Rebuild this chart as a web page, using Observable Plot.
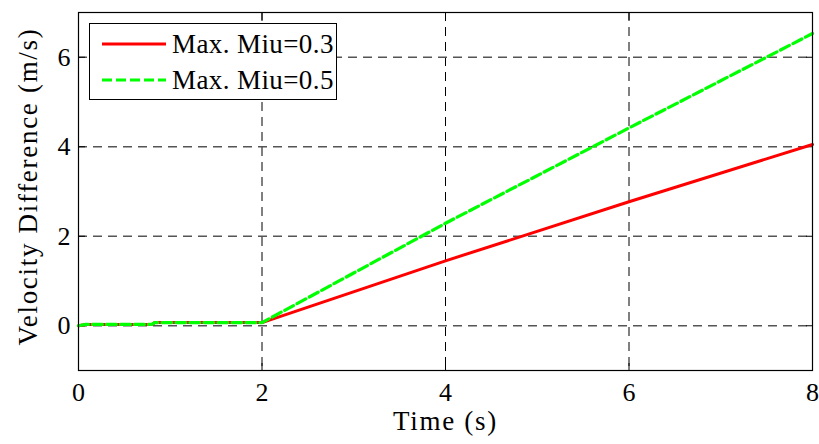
<!DOCTYPE html>
<html><head><meta charset="utf-8">
<script src="https://cdn.jsdelivr.net/npm/d3@7"></script>
<script src="https://cdn.jsdelivr.net/npm/@observablehq/plot@0.6"></script>
<style>
body{margin:0;background:#fff;}
#wrap{position:relative;width:819px;height:444px;overflow:hidden;}
#wrap svg text{font-family:"Liberation Serif","Times New Roman",serif;}
.legend{position:absolute;left:89px;top:23px;width:248px;height:77px;border:1px solid #000;background:#fff;box-sizing:border-box;font-family:"Liberation Serif","Times New Roman",serif;font-size:27px;letter-spacing:0.4px;white-space:nowrap;}
.legend .row{position:absolute;left:0;height:30px;display:flex;align-items:center;white-space:nowrap;}
.legend svg{display:block;flex:none;}
</style></head><body><div id="wrap"></div>
<script>
// data
const time  = [0, 0.08, 0.8, 0.83, 2.0, 4.0, 6.0, 8.0];
const miu03 = [0, 0.03, 0.03, 0.07, 0.07, 1.45, 2.77, 4.05];
const miu05 = [0, 0.03, 0.03, 0.07, 0.07, 2.29, 4.42, 6.53];
const seriesNames = ["Max. Miu=0.3", "Max. Miu=0.5"];
const xTicks = [0, 2, 4, 6, 8];
const yTicks = [0, 2, 4, 6];
const xLabel = "Time (s)";
const yLabel = "Velocity Difference (m/s)";

const red = time.map((t, i) => ({t, v: miu03[i]}));
const green = time.map((t, i) => ({t, v: miu05[i]}));
const font = '"Liberation Serif", "Times New Roman", serif';

const chart = Plot.plot({
  width: 819, height: 444,
  marginLeft: 78, marginRight: 7, marginTop: 12, marginBottom: 74,
  x: {domain: [0, 8]},
  y: {domain: [-1, 7]},
  style: {fontFamily: font, fontSize: "26px", background: "white", color: "#000", overflow: "visible"},
  marks: [
    Plot.gridX(xTicks.slice(1, -1), {stroke: "#000", strokeOpacity: 1, strokeWidth: 1, strokeDasharray: "9,6"}),
    Plot.gridY(yTicks, {stroke: "#555", strokeOpacity: 1, strokeWidth: 1.3, strokeDasharray: "9,6"}),
    Plot.axisX(xTicks, {anchor: "bottom", tickSize: 0, tickPadding: 12, label: null, fontSize: 26}),
    Plot.axisY(yTicks, {anchor: "left", tickSize: 0, tickPadding: 8, label: null, fontSize: 26}),
    Plot.axisX(xTicks, {anchor: "bottom", tickSize: -7, text: null, label: null}),
    Plot.axisX(xTicks, {anchor: "top", tickSize: -7, text: null, label: null}),
    Plot.axisY(yTicks, {anchor: "left", tickSize: -7, text: null, label: null}),
    Plot.axisY(yTicks, {anchor: "right", tickSize: -7, text: null, label: null}),
    Plot.line(red, {x: "t", y: "v", stroke: "#ff0000", strokeWidth: 3}),
    Plot.line(green, {x: "t", y: "v", stroke: "#00ff00", strokeWidth: 3.2, strokeDasharray: "10,4"}),
    Plot.frame({stroke: "#000", strokeWidth: 1.2}),
    Plot.text([xLabel], {frameAnchor: "bottom", textAnchor: "middle", dy: 59, fontSize: 27, fill: "#000"}),
    Plot.text([yLabel], {frameAnchor: "left", textAnchor: "middle", rotate: -90, dx: -50, dy: -5, fontSize: 27, fill: "#000"})
  ]
});
chart.querySelectorAll("text").forEach(t => {
  if (t.textContent === yLabel || t.textContent === xLabel) t.setAttribute("letter-spacing", "1.7");
});
const wrap = document.getElementById("wrap");
wrap.appendChild(chart);

const legend = document.createElement("div");
legend.className = "legend";
const styles = [
  {stroke: "#ff0000", dash: null, w: 3},
  {stroke: "#00ff00", dash: "10,4", w: 3.2}
];
seriesNames.forEach((name, i) => {
  const row = document.createElement("div");
  row.className = "row";
  row.style.top = (i === 0 ? 5 : 41) + "px";
  const s = styles[i];
  row.innerHTML = `<svg width="82" height="30"><line x1="12" x2="76" y1="15" y2="15" stroke="${s.stroke}" stroke-width="${s.w}" ${s.dash ? `stroke-dasharray="${s.dash}"` : ""}/></svg><span>${name}</span>`;
  legend.appendChild(row);
});
wrap.appendChild(legend);
</script>
</body></html>
